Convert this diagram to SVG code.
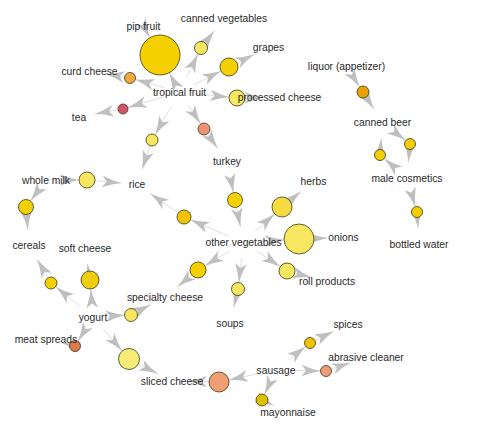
<svg xmlns="http://www.w3.org/2000/svg" width="479" height="430" viewBox="0 0 479 430">
<style>
.e{stroke:#d6d6d6;stroke-width:0.8;fill:none;marker-end:url(#ah)}
.r{stroke:#3a3a1a;stroke-width:0.8}
.t{font-family:"Liberation Sans",Arial,sans-serif;font-size:10.3px;fill:#2a2a2a;text-anchor:middle}
.gold{fill:#f5d000}.ly{fill:#f6e660}.dg{fill:#f2c300}
</style>
<defs>
<marker id="ah" markerUnits="userSpaceOnUse" markerWidth="21" markerHeight="13" viewBox="-20 -6.5 21 13" refX="0" refY="0" orient="auto" overflow="visible">
<path d="M0,0 Q-9,-1.6 -19,-5.8 L-14.5,0 L-19,5.8 Q-9,1.6 0,0 Z" fill="#bfbfbf"/>
</marker>
</defs>
<rect width="479" height="430" fill="#ffffff"/>
<g id="edges">
<line class="e" x1="143.5" y1="26.5" x2="150" y2="37.7"/>
<line class="e" x1="172" y1="77.8" x2="169.3" y2="72.7"/>
<line class="e" x1="186.5" y1="77.6" x2="198.1" y2="53.8"/>
<line class="e" x1="205" y1="42.8" x2="214.3" y2="30.7"/>
<line class="e" x1="193.8" y1="84.8" x2="221" y2="71"/>
<line class="e" x1="237.1" y1="63" x2="254.1" y2="54.6"/>
<line class="e" x1="164.1" y1="87.6" x2="135.3" y2="79.5"/>
<line class="e" x1="124.6" y1="77.1" x2="105.3" y2="74"/>
<line class="e" x1="164.2" y1="96.6" x2="127.8" y2="107.6"/>
<line class="e" x1="118.1" y1="109.9" x2="94.7" y2="114.1"/>
<line class="e" x1="195.4" y1="93.7" x2="229" y2="97.2"/>
<line class="e" x1="245" y1="97.9" x2="263.5" y2="97.7"/>
<line class="e" x1="188.3" y1="105.3" x2="200.7" y2="124"/>
<line class="e" x1="207.5" y1="133.9" x2="217.8" y2="148.4"/>
<line class="e" x1="171.5" y1="105.9" x2="155" y2="134.8"/>
<line class="e" x1="150.1" y1="145.7" x2="142.1" y2="169.3"/>
<line class="e" x1="62" y1="180" x2="79" y2="180"/>
<line class="e" x1="95" y1="180.7" x2="121.1" y2="183.1"/>
<line class="e" x1="36.5" y1="192.9" x2="30.5" y2="201"/>
<line class="e" x1="26.6" y1="214.5" x2="27.8" y2="229.5"/>
<line class="e" x1="228.8" y1="236.2" x2="190.4" y2="219.8"/>
<line class="e" x1="178.2" y1="213" x2="150.2" y2="193.6"/>
<line class="e" x1="230.3" y1="177.2" x2="233.5" y2="192.7"/>
<line class="e" x1="236.5" y1="207.4" x2="240.4" y2="226.8"/>
<line class="e" x1="255.3" y1="231.7" x2="274.7" y2="213.8"/>
<line class="e" x1="289.8" y1="200.7" x2="301.1" y2="191.6"/>
<line class="e" x1="259.5" y1="241.5" x2="284" y2="239.9"/>
<line class="e" x1="314" y1="238.5" x2="327.5" y2="238"/>
<line class="e" x1="256.9" y1="251.3" x2="280.3" y2="266.6"/>
<line class="e" x1="294.7" y1="273" x2="311.5" y2="277.4"/>
<line class="e" x1="241.6" y1="258.4" x2="238.8" y2="282.5"/>
<line class="e" x1="236.5" y1="295.3" x2="233.7" y2="307.4"/>
<line class="e" x1="229.8" y1="250.8" x2="204.8" y2="265.9"/>
<line class="e" x1="191.8" y1="275.1" x2="177.4" y2="286.9"/>
<line class="e" x1="91.7" y1="301" x2="90.7" y2="289"/>
<line class="e" x1="88.6" y1="271.1" x2="87.5" y2="263.8"/>
<line class="e" x1="80.6" y1="306.9" x2="55.7" y2="286.8"/>
<line class="e" x1="48" y1="277.8" x2="37.1" y2="259.3"/>
<line class="e" x1="109" y1="316.2" x2="124.5" y2="315.3"/>
<line class="e" x1="136.7" y1="312" x2="150.9" y2="304.5"/>
<line class="e" x1="84.6" y1="330.6" x2="77.9" y2="341.3"/>
<line class="e" x1="69.6" y1="344.7" x2="61.6" y2="342.8"/>
<line class="e" x1="103.4" y1="329.1" x2="122.2" y2="351"/>
<line class="e" x1="138.3" y1="363.8" x2="157.8" y2="373.7"/>
<line class="e" x1="260.3" y1="373.3" x2="228.8" y2="379.9"/>
<line class="e" x1="209" y1="381.8" x2="188" y2="381.3"/>
<line class="e" x1="288.5" y1="360" x2="305.7" y2="346.4"/>
<line class="e" x1="314.9" y1="340.5" x2="333.7" y2="331.2"/>
<line class="e" x1="292" y1="370.3" x2="320.5" y2="370.9"/>
<line class="e" x1="331.2" y1="369.2" x2="350.8" y2="362.6"/>
<line class="e" x1="269.2" y1="384.5" x2="264.5" y2="394.6"/>
<line class="e" x1="267.4" y1="402.6" x2="273.6" y2="405.6"/>
<line class="e" x1="355.2" y1="79.9" x2="359.7" y2="87"/>
<line class="e" x1="366.2" y1="97.1" x2="373.9" y2="109"/>
<line class="e" x1="395.1" y1="132.4" x2="405.7" y2="140.6"/>
<line class="e" x1="409.5" y1="149.5" x2="408.4" y2="162.1"/>
<line class="e" x1="394.8" y1="167.6" x2="384.2" y2="158.6"/>
<line class="e" x1="380.4" y1="149.5" x2="381.3" y2="138.5"/>
<line class="e" x1="411.5" y1="193.4" x2="415.4" y2="206.7"/>
<line class="e" x1="417.3" y1="217.5" x2="418" y2="228"/>
</g>
<g id="rule-pip"><circle class="r gold" cx="160" cy="55" r="20"/></g>
<g id="rule-cveg"><circle class="r ly" cx="201" cy="48" r="6.5"/></g>
<g id="rule-grapes"><circle class="r gold" cx="229" cy="67" r="9"/></g>
<g id="rule-curd"><circle class="r" fill="#f2a93b" cx="130" cy="78" r="5.5"/></g>
<g id="rule-tea"><circle class="r" fill="#d9506a" cx="123" cy="109" r="5"/></g>
<g id="rule-processed"><circle class="r ly" cx="237" cy="98" r="8"/></g>
<g id="rule-turkey"><circle class="r" fill="#ee9275" cx="204" cy="129" r="6"/></g>
<g id="rule-rice-tf"><circle class="r ly" cx="152" cy="140" r="6"/></g>
<g id="rule-wholemilk"><circle class="r ly" cx="87" cy="180" r="8"/></g>
<g id="rule-cereals1"><circle class="r gold" cx="26" cy="207" r="7.5"/></g>
<g id="rule-rice-ov"><circle class="r dg" cx="184" cy="217" r="7"/></g>
<g id="rule-turkey-ov"><circle class="r gold" cx="235" cy="200" r="7.5"/></g>
<g id="rule-herbs"><circle class="r" fill="#f6dc40" cx="282" cy="207" r="10"/></g>
<g id="rule-onions"><circle class="r ly" cx="299" cy="239" r="15"/></g>
<g id="rule-roll"><circle class="r ly" cx="287" cy="271" r="8"/></g>
<g id="rule-soups"><circle class="r ly" cx="238" cy="289" r="6.5"/></g>
<g id="rule-specialty-ov"><circle class="r gold" cx="198" cy="270" r="8"/></g>
<g id="rule-softcheese"><circle class="r" fill="#f0cc10" cx="90" cy="280" r="9"/></g>
<g id="rule-cereals2"><circle class="r gold" cx="51" cy="283" r="6"/></g>
<g id="rule-specialty-yog"><circle class="r ly" cx="131" cy="315" r="6.5"/></g>
<g id="rule-meat"><circle class="r" fill="#de7a4e" cx="75" cy="346" r="5.5"/></g>
<g id="rule-sliced-yog"><circle class="r" fill="#f5ec78" cx="129" cy="359" r="10.5"/></g>
<g id="rule-sliced-sausage"><circle class="r" fill="#f09f72" cx="219" cy="382" r="10"/></g>
<g id="rule-spices"><circle class="r dg" cx="310" cy="343" r="5.5"/></g>
<g id="rule-abrasive"><circle class="r" fill="#ee9c7a" cx="326" cy="371" r="5.5"/></g>
<g id="rule-mayo"><circle class="r" fill="#dcc000" cx="262" cy="400" r="6"/></g>
<g id="rule-liquor"><circle class="r" fill="#e8a200" cx="363" cy="92" r="6"/></g>
<g id="rule-beer-cosm"><circle class="r gold" cx="410" cy="144" r="5.5"/></g>
<g id="rule-cosm-beer"><circle class="r gold" cx="380" cy="155" r="5.5"/></g>
<g id="rule-bottled"><circle class="r gold" cx="417" cy="212" r="5.5"/></g>
<g id="item-pipfruit"><text class="t" x="143.5" y="30.2">pip fruit</text></g>
<g id="item-cannedveg"><text class="t" x="224" y="21.7">canned vegetables</text></g>
<g id="item-grapes"><text class="t" x="268.5" y="51.2">grapes</text></g>
<g id="item-liquor"><text class="t" x="346.5" y="70.2">liquor (appetizer)</text></g>
<g id="item-curdcheese"><text class="t" x="89.5" y="75.2">curd cheese</text></g>
<g id="item-tropicalfruit"><text class="t" x="179.5" y="95.7">tropical fruit</text></g>
<g id="item-processedcheese"><text class="t" x="279.5" y="101.2">processed cheese</text></g>
<g id="item-tea"><text class="t" x="79" y="120.7">tea</text></g>
<g id="item-cannedbeer"><text class="t" x="382.5" y="126.2">canned beer</text></g>
<g id="item-turkey"><text class="t" x="227" y="165.2">turkey</text></g>
<g id="item-malecosmetics"><text class="t" x="407" y="181.7">male cosmetics</text></g>
<g id="item-wholemilk"><text class="t" x="46" y="183.7">whole milk</text></g>
<g id="item-rice"><text class="t" x="137" y="188.2">rice</text></g>
<g id="item-herbs"><text class="t" x="313.5" y="185.2">herbs</text></g>
<g id="item-bottledwater"><text class="t" x="419" y="247.7">bottled water</text></g>
<g id="item-onions"><text class="t" x="343.5" y="241.2">onions</text></g>
<g id="item-othervegetables"><text class="t" x="243.5" y="246.2">other vegetables</text></g>
<g id="item-cereals"><text class="t" x="29" y="249.2">cereals</text></g>
<g id="item-softcheese"><text class="t" x="85" y="251.7">soft cheese</text></g>
<g id="item-rollproducts"><text class="t" x="327" y="285.2">roll products</text></g>
<g id="item-specialtycheese"><text class="t" x="165" y="300.7">specialty cheese</text></g>
<g id="item-yogurt"><text class="t" x="93" y="320.7">yogurt</text></g>
<g id="item-soups"><text class="t" x="230" y="326.7">soups</text></g>
<g id="item-spices"><text class="t" x="348" y="327.7">spices</text></g>
<g id="item-meatspreads"><text class="t" x="46" y="342.7">meat spreads</text></g>
<g id="item-abrasivecleaner"><text class="t" x="366" y="361.2">abrasive cleaner</text></g>
<g id="item-sausage"><text class="t" x="276" y="373.7">sausage</text></g>
<g id="item-slicedcheese"><text class="t" x="172" y="384.7">sliced cheese</text></g>
<g id="item-mayonnaise"><text class="t" x="288" y="416.2">mayonnaise</text></g>
</svg>
